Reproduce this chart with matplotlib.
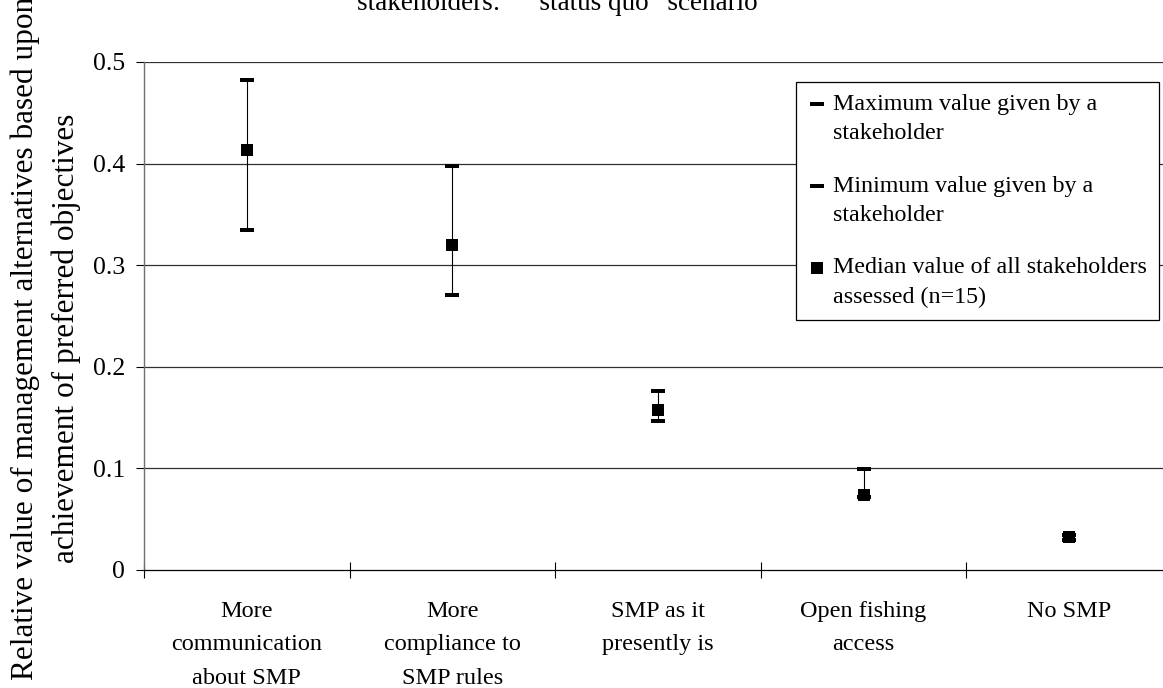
import numpy as np
import matplotlib
matplotlib.use("Agg")
import matplotlib.pyplot as plt
from matplotlib.legend_handler import HandlerLine2D
from matplotlib.lines import Line2D

plt.rcParams['font.family'] = ['Liberation Serif', 'DejaVu Serif']

categories = ["More\ncommunication\nabout SMP", "More\ncompliance to\nSMP rules",
              "SMP as it\npresently is", "Open fishing\naccess", "No SMP"]
max_vals = [0.482, 0.398, 0.176, 0.099, 0.034]
min_vals = [0.335, 0.271, 0.147, 0.072, 0.030]
median_vals = [0.413, 0.320, 0.157, 0.074, 0.032]
yticks = [0, 0.1, 0.2, 0.3, 0.4, 0.5]
ytick_labels = ["0", "0.1", "0.2", "0.3", "0.4", "0.5"]

W, H = 1163, 688
fig = plt.figure(figsize=(W / 100, H / 100), dpi=100)
ax = fig.add_axes([144 / W, 1 - 570 / H, (1172 - 144) / W, (570 - 62) / H])

x = np.arange(len(categories))
ax.set_xlim(-0.5, len(categories) - 0.5)
ax.set_ylim(0, 0.5)

# gridlines
for yv in yticks[1:]:
    ax.axhline(yv, color='#303030', lw=0.9, zorder=1)

# high-low lines
ax.vlines(x, min_vals, max_vals, color='black', lw=0.8, zorder=2)

dash = [(-1.7, -0.5), (1.7, -0.5), (1.7, 0.5), (-1.7, 0.5), (-1.7, -0.5)]
l_max, = ax.plot(x, max_vals, ls='none', marker=dash, ms=9.8, color='black', mec='black',
                 mew=0, zorder=3, label="Maximum value given by a\nstakeholder")
l_min, = ax.plot(x, min_vals, ls='none', marker=dash, ms=9.8, color='black', mec='black',
                 mew=0, zorder=3, label="Minimum value given by a\nstakeholder")
l_med, = ax.plot(x, median_vals, ls='none', marker='s', ms=8.3, color='black', mec='black',
                 mew=0, zorder=4, label="Median value of all stakeholders\nassessed (n=15)")

# axes styling
for s in ['top', 'right']:
    ax.spines[s].set_visible(False)
ax.spines['left'].set_color('#707070')
ax.spines['left'].set_linewidth(1.0)
ax.spines['bottom'].set_color('black')
ax.spines['bottom'].set_linewidth(0.9)

ax.set_yticks(yticks)
ax.set_yticklabels(ytick_labels)
ax.tick_params(axis='y', direction='out', length=5.5, width=0.8, pad=8, labelsize=18.5)

ax.set_xticks(x)
ax.set_xticklabels(categories, linespacing=1.8)
ax.tick_params(axis='x', which='major', length=0, pad=22, labelsize=17.5)
ax.set_xticks(np.arange(len(categories) + 1) - 0.5, minor=True)
ax.tick_params(axis='x', which='minor', direction='inout', length=11.5, width=0.8)

# y label (two lines)
fig.text(46 / W, 1 - 338 / H,
         "Relative value of management alternatives based upon\nachievement of preferred objectives",
         rotation=90, ha='center', va='center', fontsize=22.5, linespacing=1.5,
         multialignment='center')

# title (last line visible)
fig.text(357 / W, 1 - 10 / H, "stakeholders:    \u201cstatus quo\u201d scenario",
         ha='left', va='baseline', fontsize=19.5)


class UpHandler(HandlerLine2D):
    def create_artists(self, legend, orig_handle, xdescent, ydescent, width, height,
                       fontsize, trans):
        arts = super().create_artists(legend, orig_handle, xdescent, ydescent, width,
                                      height, fontsize, trans)
        for a in arts:
            if isinstance(a, Line2D):
                a.set_ydata(np.asarray(a.get_ydata(), dtype=float) + 0.6 * fontsize)
        return arts


leg = fig.legend(handles=[l_max, l_min, l_med], loc='upper right',
                 bbox_to_anchor=(1159 / W, 1 - 82 / H), bbox_transform=fig.transFigure,
                 fontsize=17.3, frameon=True, fancybox=False, shadow=False,
                 handlelength=0.75, handletextpad=0.3, labelspacing=1.32,
                 borderpad=0.5, borderaxespad=0,
                 handler_map={l_max: UpHandler(), l_min: UpHandler(), l_med: UpHandler()})
for t in leg.get_texts():
    t.set_linespacing(1.5)
leg.get_frame().set_edgecolor('black')
leg.get_frame().set_linewidth(0.9)
leg.get_frame().set_facecolor('white')
leg.get_frame().set_alpha(1)

fig.savefig("out.png", dpi=100)
